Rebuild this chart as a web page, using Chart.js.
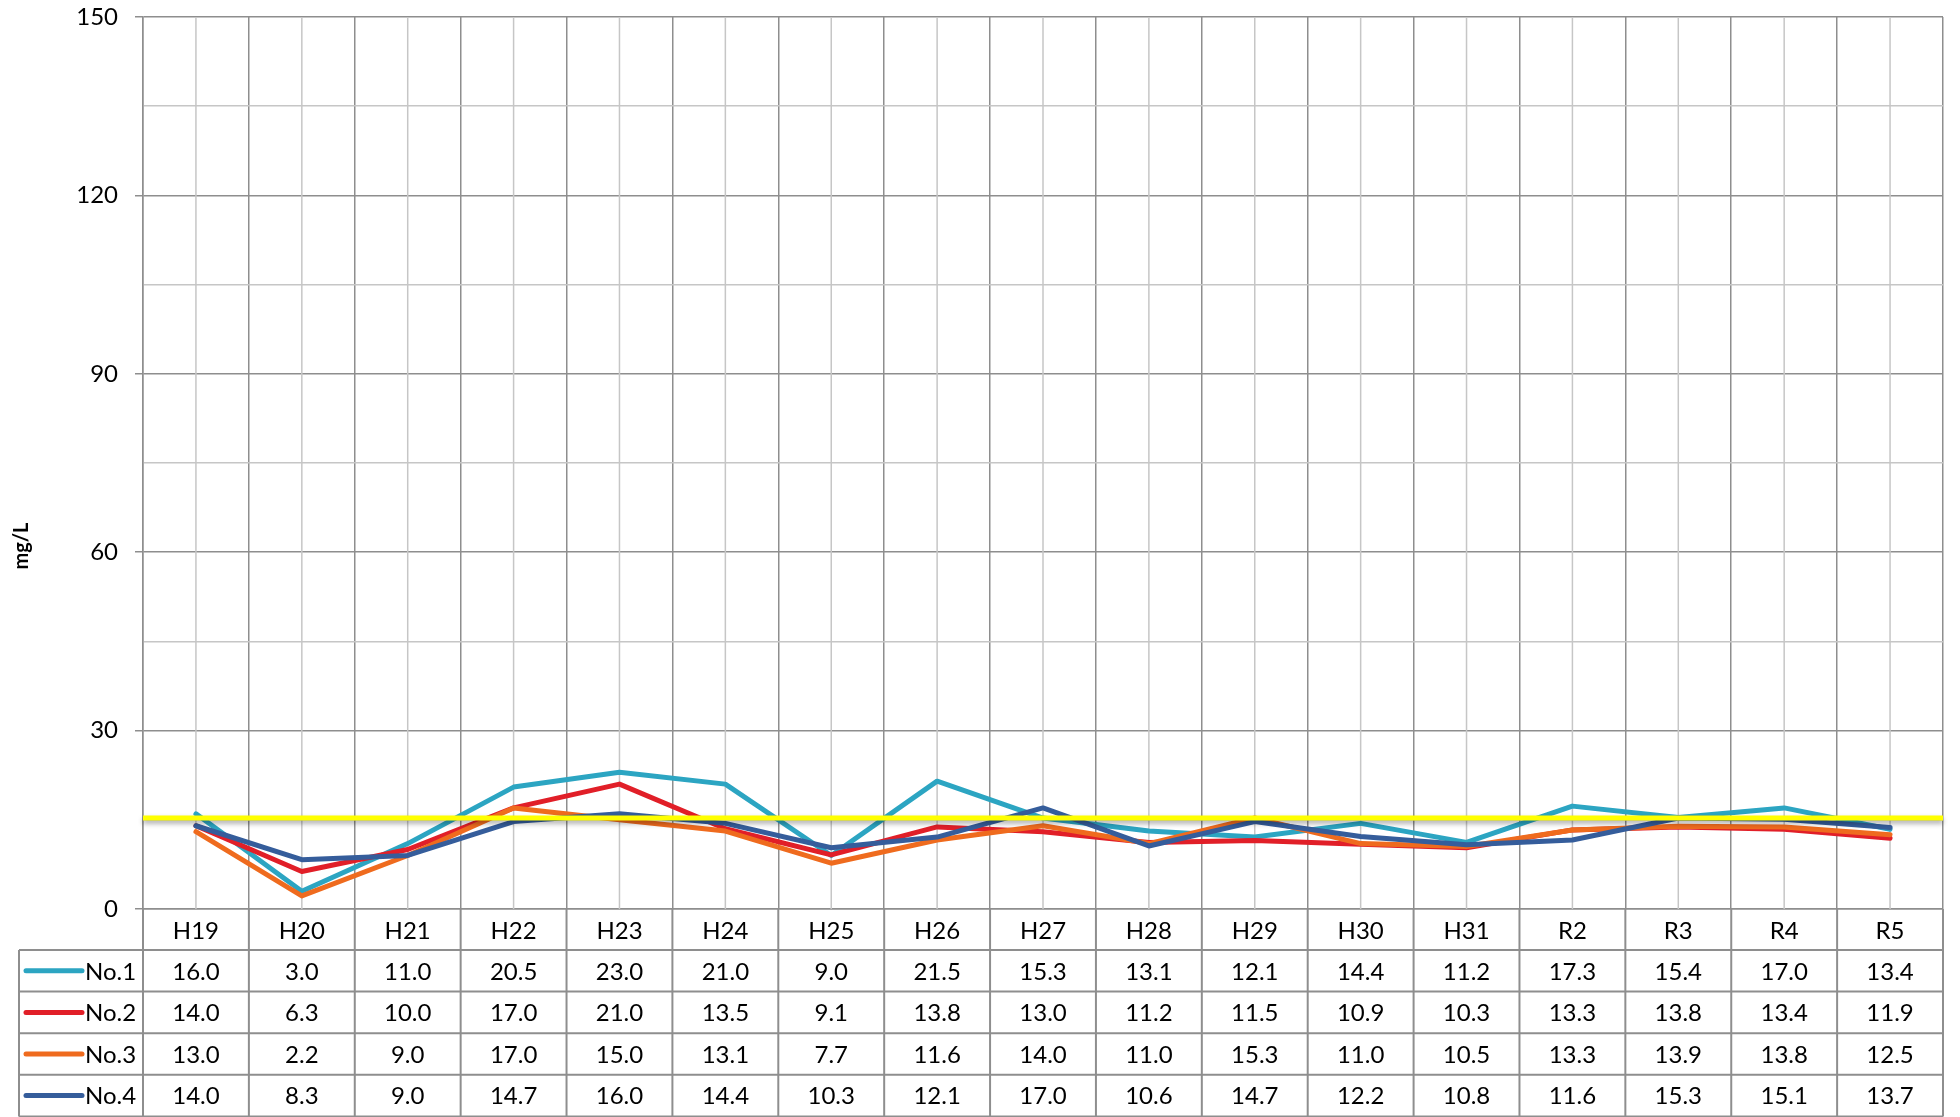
<!DOCTYPE html>
<html>
<head>
<meta charset="utf-8">
<script src="https://cdn.jsdelivr.net/npm/chart.js@4.4.1/dist/chart.umd.min.js"></script>
<style>
  html, body { margin: 0; padding: 0; background: #ffffff; }
  #wrap { width: 1960px; height: 1117px; }
</style>
</head>
<body>
<div id="wrap"><canvas id="c" width="1960" height="1117"></canvas></div>
<script>
// ---- data ----
const categories = ['H19','H20','H21','H22','H23','H24','H25','H26','H27','H28','H29','H30','H31','R2','R3','R4','R5'];
const seriesNames = ['No.1','No.2','No.3','No.4'];
const no1 = [16.0, 3.0, 11.0, 20.5, 23.0, 21.0, 9.0, 21.5, 15.3, 13.1, 12.1, 14.4, 11.2, 17.3, 15.4, 17.0, 13.4];
const no2 = [14.0, 6.3, 10.0, 17.0, 21.0, 13.5, 9.1, 13.8, 13.0, 11.2, 11.5, 10.9, 10.3, 13.3, 13.8, 13.4, 11.9];
const no3 = [13.0, 2.2, 9.0, 17.0, 15.0, 13.1, 7.7, 11.6, 14.0, 11.0, 15.3, 11.0, 10.5, 13.3, 13.9, 13.8, 12.5];
const no4 = [14.0, 8.3, 9.0, 14.7, 16.0, 14.4, 10.3, 12.1, 17.0, 10.6, 14.7, 12.2, 10.8, 11.6, 15.3, 15.1, 13.7];
const standardValue = 15.3;
const yMin = 0, yMax = 150, yStep = 15, yLabelStep = 30;
const axisTitle = 'mg/L';

// ---- styles ----
const seriesColors = ['#2CA5C2', '#E11F28', '#EF6B1E', '#355D9B'];
const seriesValues = [no1, no2, no3, no4];
const FONT = 'Lato';
const FS = 24;
const darkGrid = '#8e8e8e';
const lightGrid = '#c6c6c6';

Chart.defaults.font.family = FONT;
Chart.defaults.font.size = FS;
Chart.defaults.color = '#000000';

const tableGeom = { headerH: 41, rowH: 41.6, left: 19, lineX1: 26, lineX2: 82, textX: 85 };

const decorPlugin = {
  id: 'decor',
  beforeDatasetsDraw(chart) {
    const ctx = chart.ctx, area = chart.chartArea, xs = chart.scales.x;
    ctx.save();
    ctx.strokeStyle = lightGrid;
    ctx.lineWidth = 1.5;
    for (let i = 0; i < categories.length; i++) {
      const px = xs.getPixelForValue(i);
      ctx.beginPath();
      ctx.moveTo(px, area.top);
      ctx.lineTo(px, area.bottom);
      ctx.stroke();
    }
    ctx.restore();
  },
  afterDatasetsDraw(chart) {
    const ctx = chart.ctx, area = chart.chartArea, ys = chart.scales.y;
    const py = ys.getPixelForValue(standardValue);
    ctx.save();
    ctx.strokeStyle = '#FFFF00';
    ctx.lineWidth = 5;
    ctx.shadowColor = 'rgba(0,0,0,0.35)';
    ctx.shadowBlur = 5;
    ctx.shadowOffsetY = 3;
    ctx.beginPath();
    ctx.moveTo(area.left, py);
    ctx.lineTo(area.right, py);
    ctx.stroke();
    ctx.restore();
  },
  afterDraw(chart) {
    const ctx = chart.ctx, area = chart.chartArea, xs = chart.scales.x;
    const n = categories.length;
    const colW = (area.right - area.left) / n;
    const headTop = area.bottom;
    const rowsTop = headTop + tableGeom.headerH;
    const bottom = rowsTop + tableGeom.rowH * seriesNames.length;
    ctx.save();
    ctx.strokeStyle = darkGrid;
    ctx.lineWidth = 2;
    for (let i = 0; i <= n; i++) {
      const px = area.left + i * colW;
      ctx.beginPath();
      ctx.moveTo(px, headTop);
      ctx.lineTo(px, bottom);
      ctx.stroke();
    }
    ctx.beginPath();
    ctx.moveTo(tableGeom.left, rowsTop);
    ctx.lineTo(tableGeom.left, bottom);
    ctx.stroke();
    for (let r = 0; r <= seriesNames.length; r++) {
      const py = rowsTop + r * tableGeom.rowH;
      ctx.beginPath();
      ctx.moveTo(tableGeom.left, py);
      ctx.lineTo(area.right, py);
      ctx.stroke();
    }
    ctx.font = FS + 'px ' + FONT;
    ctx.fillStyle = '#000';
    ctx.textBaseline = 'middle';
    for (let r = 0; r < seriesNames.length; r++) {
      const cy = rowsTop + (r + 0.5) * tableGeom.rowH;
      ctx.strokeStyle = seriesColors[r];
      ctx.lineWidth = 5;
      ctx.lineCap = 'round';
      ctx.beginPath();
      ctx.moveTo(tableGeom.lineX1, cy);
      ctx.lineTo(tableGeom.lineX2, cy);
      ctx.stroke();
      ctx.textAlign = 'left';
      ctx.fillText(seriesNames[r], tableGeom.textX, cy + 1);
      ctx.textAlign = 'center';
      seriesValues[r].forEach((v, i) => {
        ctx.fillText(v.toFixed(1), xs.getPixelForValue(i), cy + 1);
      });
    }
    ctx.save();
    ctx.translate(22, 546);
    ctx.rotate(-Math.PI / 2);
    ctx.font = 'bold 20px ' + FONT;
    ctx.textAlign = 'center';
    ctx.textBaseline = 'middle';
    ctx.fillText(axisTitle, 0, 0);
    ctx.restore();
    ctx.restore();
  }
};

const datasets = seriesNames.map((name, k) => ({
  label: name,
  data: seriesValues[k],
  borderColor: seriesColors[k],
  backgroundColor: seriesColors[k],
  borderWidth: 5,
  pointRadius: 0,
  pointHoverRadius: 0,
  tension: 0,
  fill: false,
  borderJoinStyle: 'round',
  borderCapStyle: 'round',
  order: seriesNames.length - k
}));

new Chart(document.getElementById('c'), {
  type: 'line',
  data: { labels: categories, datasets },
  options: {
    responsive: false,
    animation: false,
    devicePixelRatio: 1,
    layout: { padding: { left: 0, top: 17, right: 17, bottom: 0 } },
    plugins: { legend: { display: false }, tooltip: { enabled: false }, title: { display: false } },
    scales: {
      x: {
        type: 'category',
        offset: true,
        grid: { offset: true, color: darkGrid, lineWidth: 1.5, drawTicks: false },
        border: { display: true, color: darkGrid, width: 1.5 },
        ticks: { padding: 8, maxRotation: 0, autoSkip: false, font: { size: FS } },
        afterFit(s) { s.height = 208; s.paddingLeft = 0; s.paddingRight = 0; }
      },
      y: {
        min: yMin, max: yMax,
        grid: {
          color: (c) => (c.tick && c.tick.value % yLabelStep === 0) ? darkGrid : lightGrid,
          tickColor: (c) => (c.tick && c.tick.value % yLabelStep === 0) ? darkGrid : 'rgba(0,0,0,0)',
          lineWidth: 1.5,
          tickLength: 8
        },
        border: { display: true, color: darkGrid, width: 1.5 },
        ticks: {
          stepSize: yStep,
          padding: 17,
          font: { size: FS },
          callback: (v) => (v % yLabelStep === 0) ? String(v) : ''
        },
        afterFit(s) { s.width = 143; s.paddingTop = 0; s.paddingBottom = 0; }
      }
    }
  },
  plugins: [decorPlugin]
});
</script>
</body>
</html>
